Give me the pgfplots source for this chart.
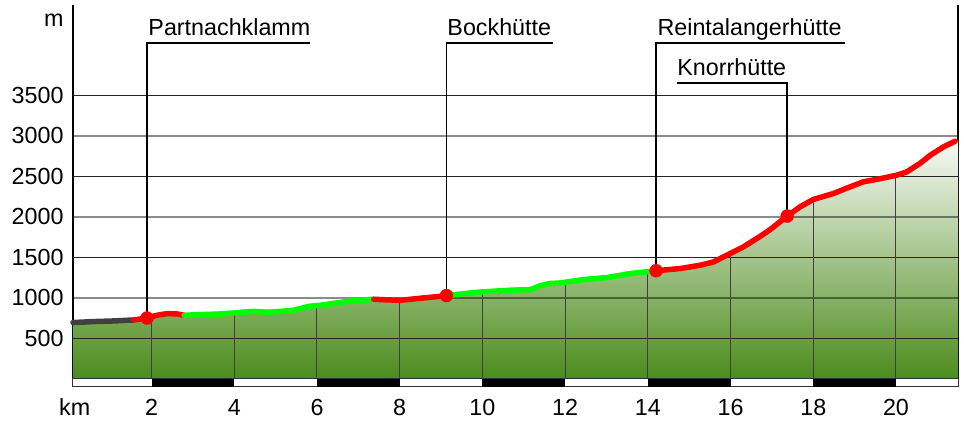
\documentclass[border=0pt]{standalone}
\usepackage{fontspec}
\setmainfont{Liberation Sans}
\usepackage{pgfplots}
\pgfplotsset{compat=1.18}
\definecolor{profred}{RGB}{255,0,0}
\definecolor{profgreen}{RGB}{0,255,0}
\definecolor{profgray}{RGB}{64,64,64}
\definecolor{filllow}{RGB}{76,140,28}
\definecolor{fillhigh}{RGB}{248,250,246}
\newcommand{\lblfont}{\fontsize{23.3bp}{27bp}\selectfont}
\begin{document}
\begin{tikzpicture}
\useasboundingbox (-73bp,-39bp) rectangle (891bp,387bp);
\begin{axis}[
  scale only axis, width=885bp, height=382bp,
  at={(0,0)}, anchor=south west,
  xmin=0.1, xmax=21.5, ymin=-101, ymax=4617,
  separate axis lines,
  x axis line style={draw=none},
  y axis line style={black, line width=1.3bp},
  xtick={2,4,...,20},
  extra x ticks={0.14}, extra x tick labels={km},
  ytick={500,1000,...,3500},
  extra y ticks={4431}, extra y tick labels={m},
  major tick length=0pt, tick style={draw=none},
  ticklabel style={font=\lblfont, /pgf/number format/assume math mode=true, /pgf/number format/1000 sep={}},
  xticklabel style={yshift=-8.5bp},
  yticklabel style={xshift=-6bp},
  clip=false,
]
% shaded terrain
\addplot[draw=none, top color=fillhigh, bottom color=filllow] coordinates {
(0.1,695)(0.6,707)(1.1,715)(1.57,727)(1.89,751)(2.13,785)(2.38,806)(2.62,801)(2.79,785)
(3.18,793)(3.6,800)(3.99,813)(4.47,834)(4.79,822)(5.1,832)(5.44,847)(5.8,895)(6.08,908)
(6.45,935)(6.81,962)(7.37,983)(7.7,975)(8.02,970)(8.42,991)(8.8,1010)(9.13,1028)
(9.79,1065)(10.2,1080)(10.67,1094)(11.16,1102)(11.4,1150)(11.62,1177)(11.88,1184)
(12.45,1226)(13.01,1251)(13.58,1300)(14.2,1335)(14.78,1362)(15.27,1403)(15.59,1444)
(15.99,1547)(16.31,1629)(16.72,1761)(16.96,1844)(17.37,2010)(17.68,2124)(18.0,2215)
(18.49,2289)(18.85,2363)(19.21,2433)(19.6,2470)(20.02,2515)(20.26,2556)(20.58,2660)
(20.83,2762)(21.15,2865)(21.43,2935)(21.5,2940)(21.5,0)(0.1,0)};
% horizontal grid
\addplot[black!85, line width=0.9bp] coordinates {(0.1,500)(21.5,500)};
\addplot[black, opacity=0.45, line width=1.7bp] coordinates {(0.1,1000)(21.5,1000)};
\addplot[black!85, line width=0.9bp] coordinates {(0.1,1500)(21.5,1500)};
\addplot[black, opacity=0.45, line width=1.7bp] coordinates {(0.1,2000)(21.5,2000)};
\addplot[black!85, line width=0.9bp] coordinates {(0.1,2500)(21.5,2500)};
\addplot[black, opacity=0.45, line width=1.7bp] coordinates {(0.1,3000)(21.5,3000)};
\addplot[black!85, line width=0.9bp] coordinates {(0.1,3500)(21.5,3500)};
% vertical grid below the profile
\addplot[ycomb, no marks, draw=black!75, line width=1bp] coordinates {
(2,765)(4,810)(6,903)(8,968)(10,1072)(12,1190)(14,1325)(16,1548)(18,2212)(20,2510)};
% scale bar
\addplot[fill=white, draw=black!80, line width=1bp] coordinates {(0.1,-101)(21.5,-101)(21.5,0)(0.1,0)(0.1,-101)};
\addplot[fill=black, draw=none] coordinates {(2,-101)(4,-101)(4,0)(2,0)};
\addplot[fill=black, draw=none] coordinates {(6,-101)(8,-101)(8,0)(6,0)};
\addplot[fill=black, draw=none] coordinates {(10,-101)(12,-101)(12,0)(10,0)};
\addplot[fill=black, draw=none] coordinates {(14,-101)(16,-101)(16,0)(14,0)};
\addplot[fill=black, draw=none] coordinates {(18,-101)(20,-101)(20,0)(18,0)};
% leader lines
\addplot[black, line width=1.6bp] coordinates {(1.89,751)(1.89,4150)(5.82,4150)};
\addplot[black, line width=1.6bp] coordinates {(9.13,1028)(9.13,4150)(11.71,4150)};
\addplot[black, line width=1.6bp] coordinates {(14.2,1335)(14.2,4150)(18.77,4150)};
\addplot[black, line width=1.6bp] coordinates {(17.37,2010)(17.37,3652)(14.71,3652)};
% profile line
\addplot[profgray, line width=5.5bp, line join=round, line cap=round] coordinates {
(0.1,695)(0.6,707)(1.1,715)(1.57,727)};
\addplot[profred, line width=5.5bp, line join=round, line cap=round] coordinates {
(1.57,727)(1.89,751)(2.13,785)(2.38,806)(2.62,801)(2.79,785)};
\addplot[profgreen, line width=5.5bp, line join=round, line cap=round] coordinates {
(2.79,785)(3.18,793)(3.6,800)(3.99,813)(4.47,834)(4.79,822)(5.1,832)(5.44,847)(5.8,895)
(6.08,908)(6.45,935)(6.81,962)(7.37,983)};
\addplot[profred, line width=5.5bp, line join=round, line cap=round] coordinates {
(7.37,983)(7.7,975)(8.02,970)(8.42,991)(8.8,1010)(9.13,1028)};
\addplot[profgreen, line width=5.5bp, line join=round, line cap=round] coordinates {
(9.13,1028)(9.79,1065)(10.2,1080)(10.67,1094)(11.16,1102)(11.4,1150)(11.62,1177)
(11.88,1184)(12.45,1226)(13.01,1251)(13.58,1300)(14.2,1335)};
\addplot[profred, line width=5.5bp, line join=round, line cap=round] coordinates {
(14.2,1335)(14.78,1362)(15.27,1403)(15.59,1444)(15.99,1547)(16.31,1629)(16.72,1761)
(16.96,1844)(17.37,2010)(17.68,2124)(18.0,2215)(18.49,2289)(18.85,2363)(19.21,2433)
(19.6,2470)(20.02,2515)(20.26,2556)(20.58,2660)(20.83,2762)(21.15,2865)(21.43,2935)};
% markers
\addplot[only marks, mark=*, mark size=6.5bp, color=profred] coordinates {
(1.89,751)(9.13,1028)(14.2,1335)(17.37,2010)};
% labels
\node[anchor=base west, inner sep=0pt, font=\lblfont] at (axis cs:1.92,4246) {Partnachklamm};
\node[anchor=base west, inner sep=0pt, font=\lblfont] at (axis cs:9.15,4246) {Bockhütte};
\node[anchor=base west, inner sep=0pt, font=\lblfont] at (axis cs:14.23,4246) {Reintalangerhütte};
\node[anchor=base west, inner sep=0pt, font=\lblfont] at (axis cs:14.71,3751) {Knorrhütte};
\end{axis}
\end{tikzpicture}
\end{document}
